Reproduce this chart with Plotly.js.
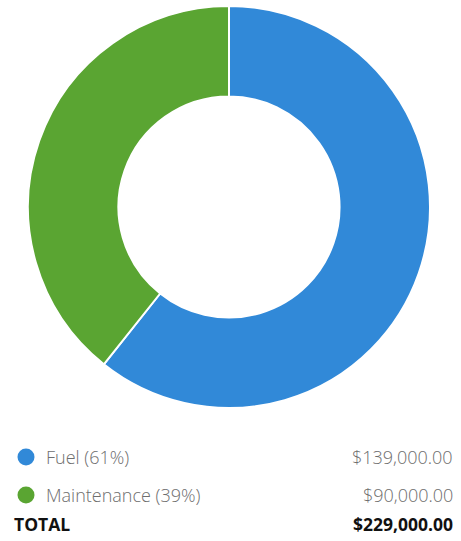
<!DOCTYPE html>
<html><head><meta charset="utf-8">
<script src="https://cdn.plot.ly/plotly-3.0.1.min.js"></script>
<style>html,body{margin:0;padding:0;background:#fff;}#chart{width:461px;height:541px;}</style>
</head><body><div id="chart"></div>
<script>
const categories = ["Fuel", "Maintenance"];
const amounts = [139000, 90000];
const colors = ["#3189d8", "#5aa532"];

const total = amounts.reduce((a, b) => a + b, 0);
const fmt = v => "$" + v.toLocaleString("en-US", {minimumFractionDigits: 2, maximumFractionDigits: 2});
const W = 461, H = 541;
const px = x => x / W, py = y => 1 - y / H;

const trace = {
  type: "pie",
  labels: categories,
  values: amounts,
  hole: 0.55,
  sort: false,
  direction: "clockwise",
  rotation: 0,
  textinfo: "none",
  hoverinfo: "label+value+percent",
  marker: {colors: colors, line: {color: "#ffffff", width: 2}},
  domain: {x: [px(28), px(430)], y: [py(409), py(5)]},
  showlegend: false
};

const rowY = [457, 495];
const regFont = {family: "Open Sans, sans-serif", size: 18, color: "#6e6e6e", weight: 300};
const boldFont = {family: "Open Sans, sans-serif", size: 17.5, color: "#111111"};
const annotations = [];
const shapes = [];
categories.forEach((c, i) => {
  const pct = Math.round(amounts[i] / total * 100);
  annotations.push({xref: "paper", yref: "paper", x: px(44), y: py(rowY[i]), xanchor: "left", yanchor: "middle",
    text: c + " (" + pct + "%)", showarrow: false, font: regFont});
  annotations.push({xref: "paper", yref: "paper", x: px(455), y: py(rowY[i]), xanchor: "right", yanchor: "middle",
    text: fmt(amounts[i]), showarrow: false, font: regFont});
  shapes.push({type: "circle", xref: "paper", yref: "paper", x0: px(17.5), x1: px(34.5), y0: py(rowY[i] + 8.5), y1: py(rowY[i] - 8.5),
    fillcolor: colors[i], line: {width: 0}});
});
annotations.push({xref: "paper", yref: "paper", x: px(12), y: py(524), xanchor: "left", yanchor: "middle",
  text: "<b>TOTAL</b>", showarrow: false, font: boldFont});
annotations.push({xref: "paper", yref: "paper", x: px(455), y: py(524), xanchor: "right", yanchor: "middle",
  text: "<b>" + fmt(total) + "</b>", showarrow: false, font: boldFont});

const layout = {
  width: W, height: H,
  margin: {l: 0, r: 0, t: 0, b: 0},
  paper_bgcolor: "#ffffff",
  annotations: annotations,
  shapes: shapes
};
Plotly.newPlot("chart", [trace], layout, {displayModeBar: false, staticPlot: true});
</script></body></html>
